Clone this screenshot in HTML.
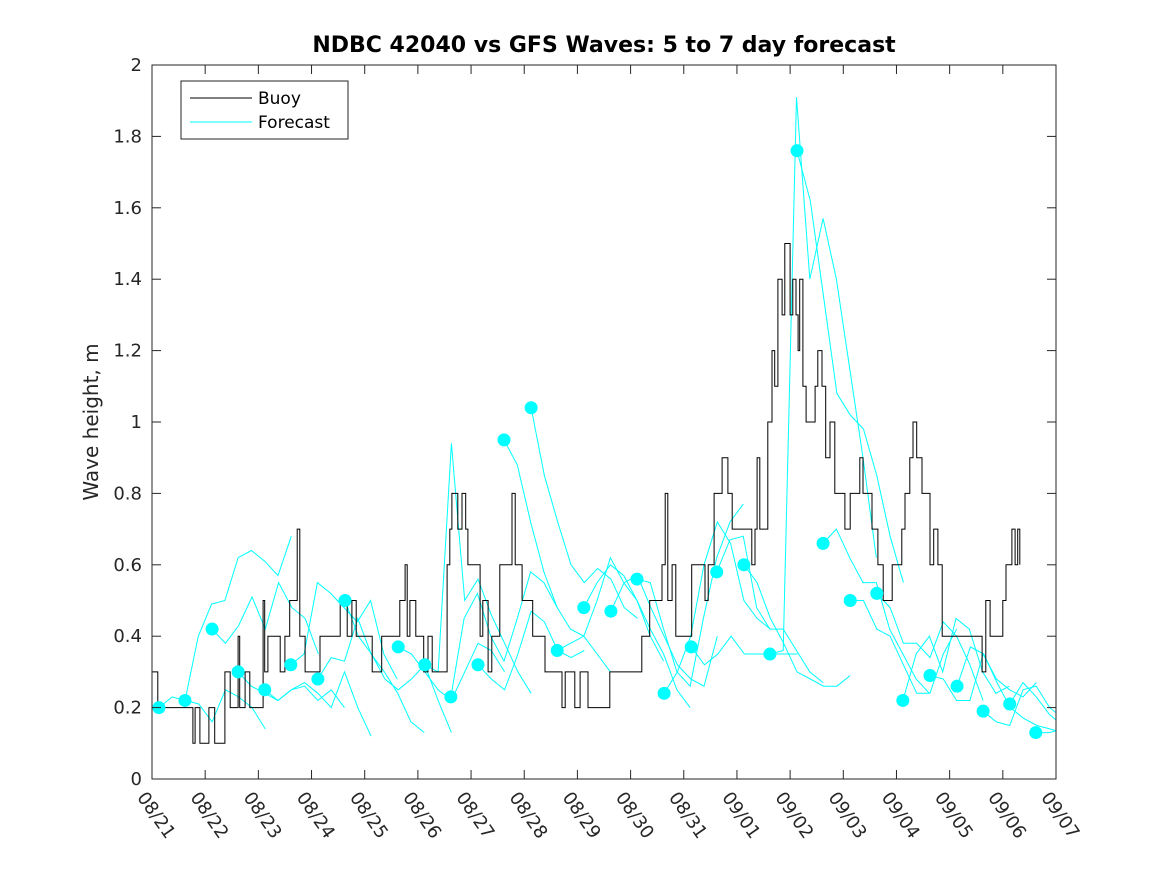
<!DOCTYPE html>
<html><head><meta charset="utf-8"><style>
body{margin:0;background:#fff}
svg{display:block;font-family:"DejaVu Sans","Liberation Sans",sans-serif}
</style></head><body>
<svg id="chart" width="1167" height="875" viewBox="0 0 1167 875">
<defs><clipPath id="pc"><rect x="152" y="65" width="904" height="714"/></clipPath></defs>
<rect width="1167" height="875" fill="#fff"/>
<text x="604" y="52" text-anchor="middle" font-size="22" font-weight="bold" fill="#000">NDBC 42040 vs GFS Waves: 5 to 7 day forecast</text>
<text transform="translate(98,422) rotate(-90)" text-anchor="middle" font-size="20" fill="#262626">Wave height, m</text>
<g id="plot" clip-path="url(#pc)"></g>
<g id="axes"></g>
<g>
<rect x="181" y="81" width="167" height="58" fill="#fff" stroke="#262626" stroke-width="1"/>
<line x1="190" y1="98" x2="252" y2="98" stroke="#000" stroke-width="1"/>
<text x="258" y="104" font-size="17" fill="#000">Buoy</text>
<line x1="190" y1="122" x2="252" y2="122" stroke="#00ffff" stroke-width="1"/>
<text x="258" y="128" font-size="17" fill="#000">Forecast</text>
</g>
</svg>
<script>
const xTicks=["08/21","08/22","08/23","08/24","08/25","08/26","08/27","08/28","08/29","08/30","08/31","09/01","09/02","09/03","09/04","09/05","09/06","09/07"];
const yTicks=[0,0.2,0.4,0.6,0.8,1,1.2,1.4,1.6,1.8,2];
const buoyDays=[0,0.11,0.77,0.81,0.90,1.07,1.18,1.37,1.47,1.62,1.65,1.75,1.84,2.09,2.12,2.18,2.41,2.50,2.59,2.73,2.78,2.88,3.16,3.54,3.67,3.76,3.84,4.14,4.32,4.66,4.76,4.80,4.85,4.96,5.11,5.19,5.27,5.55,5.60,5.64,5.75,5.83,5.90,5.94,6.17,6.22,6.32,6.39,6.54,6.77,6.83,6.96,7.16,7.39,7.71,7.77,7.95,8.05,8.20,8.61,9.21,9.36,9.59,9.65,9.70,9.78,9.85,10.15,10.40,10.46,10.57,10.72,10.83,10.91,11.28,11.34,11.38,11.43,11.58,11.66,11.71,11.77,11.85,11.90,12.00,12.05,12.11,12.15,12.18,12.24,12.30,12.47,12.52,12.60,12.67,12.75,12.84,13.03,13.13,13.31,13.37,13.54,13.65,13.75,13.92,14.10,14.16,14.25,14.31,14.38,14.48,14.63,14.70,14.78,14.86,15.61,15.68,15.76,16.00,16.06,16.17,16.23,16.28,16.32];
const buoyVals=[0.3,0.2,0.1,0.2,0.1,0.2,0.1,0.3,0.2,0.4,0.2,0.3,0.2,0.5,0.3,0.4,0.3,0.4,0.5,0.7,0.4,0.3,0.4,0.5,0.4,0.5,0.4,0.3,0.4,0.5,0.6,0.4,0.5,0.4,0.3,0.4,0.3,0.6,0.7,0.8,0.7,0.8,0.7,0.6,0.4,0.5,0.3,0.4,0.6,0.8,0.6,0.5,0.4,0.3,0.2,0.3,0.2,0.3,0.2,0.3,0.4,0.5,0.6,0.8,0.5,0.6,0.4,0.6,0.5,0.6,0.8,0.9,0.8,0.7,0.6,0.7,0.9,0.7,1.0,1.2,1.1,1.4,1.3,1.5,1.3,1.4,1.3,1.2,1.4,1.1,1.0,1.1,1.2,1.1,0.9,1.0,0.8,0.7,0.8,0.9,0.8,0.7,0.6,0.5,0.6,0.7,0.8,0.9,1.0,0.9,0.8,0.6,0.7,0.6,0.4,0.3,0.5,0.4,0.5,0.6,0.7,0.6,0.7,0.6];
const fcStartDays=[0.13,0.62,1.13,1.62,2.12,2.61,3.12,3.63,4.63,5.13,5.62,6.13,6.62,7.13,7.62,8.12,8.63,9.12,9.63,10.14,10.62,11.13,11.62,12.13,12.62,13.13,13.63,14.12,14.63,15.14,15.63,16.13,16.62];
const fcStep=0.25;
const fcVals=[
[0.20,0.23,0.22,0.21,0.16,0.25,0.23,0.20,0.14],
[0.22,0.40,0.49,0.50,0.62,0.64,0.61,0.57,0.68],
[0.42,0.38,0.43,0.51,0.42,0.55,0.48,0.45,0.35],
[0.30,0.26,0.24,0.22,0.25,0.26,0.22,0.25,0.20],
[0.25,0.22,0.25,0.27,0.24,0.20,0.30,0.20,0.12],
[0.32,0.35,0.55,0.52,0.48,0.44,0.50,0.35,0.28],
[0.28,0.34,0.33,0.45,0.35,0.30,0.24,0.16,0.13],
[0.50,0.40,0.35,0.28,0.25,0.28,0.32,0.22,0.13],
[0.37,0.35,0.30,0.25,0.22,0.30,0.38,0.36,0.30],
[0.32,0.30,0.94,0.50,0.56,0.46,0.38,0.30,0.24],
[0.23,0.45,0.52,0.40,0.33,0.45,0.58,0.55,0.48],
[0.32,0.28,0.25,0.35,0.47,0.44,0.36,0.34,0.36],
[0.95,0.88,0.72,0.58,0.48,0.42,0.40,0.35,0.30],
[1.04,0.85,0.72,0.60,0.55,0.59,0.56,0.48,0.45],
[0.36,0.38,0.40,0.50,0.62,0.55,0.50,0.40,0.33],
[0.48,0.55,0.60,0.57,0.50,0.42,0.35,0.25,0.20],
[0.47,0.55,0.57,0.48,0.40,0.32,0.28,0.26,0.40],
[0.56,0.55,0.42,0.30,0.26,0.45,0.62,0.72,0.77],
[0.24,0.30,0.40,0.60,0.72,0.66,0.50,0.45,0.42],
[0.37,0.32,0.35,0.40,0.35,0.35,0.35,0.35,0.35],
[0.58,0.67,0.68,0.48,0.42,0.42,0.36,0.30,0.27],
[0.60,0.55,0.45,0.38,0.30,0.28,0.26,0.26,0.29],
[0.35,0.36,1.91,1.40,1.57,1.40,1.15,0.90,0.62],
[1.76,1.62,1.35,1.08,1.02,0.98,0.85,0.68,0.55],
[0.66,0.70,0.62,0.55,0.55,0.42,0.35,0.28,0.24],
[0.50,0.50,0.42,0.40,0.32,0.24,0.24,0.35,0.42],
[0.52,0.48,0.38,0.38,0.34,0.44,0.40,0.32,0.22],
[0.22,0.35,0.40,0.30,0.45,0.42,0.30,0.24,0.26],
[0.29,0.28,0.22,0.22,0.35,0.28,0.25,0.23,0.27],
[0.26,0.37,0.35,0.27,0.20,0.17,0.15,0.14,0.13],
[0.19,0.16,0.15,0.25,0.26,0.20,0.17,0.15,0.16],
[0.21,0.27,0.23,0.18,0.15,0.13,0.15],
[0.13,0.13,0.14,0.14]];

const NS="http://www.w3.org/2000/svg";
const X0=152,X1=1056,Y0=779,Y1=65;
const xs=d=>X0+d*(X1-X0)/17;
const ys=v=>Y0-v*(Y0-Y1)/2;
const plot=document.getElementById('plot'),axes=document.getElementById('axes');
function mk(tag,attrs,parent){const e=document.createElementNS(NS,tag);for(const k in attrs)e.setAttribute(k,attrs[k]);parent.appendChild(e);return e;}

fcVals.forEach((vals,i)=>{
  const pts=vals.map((v,j)=>xs(fcStartDays[i]+j*fcStep).toFixed(1)+','+ys(v).toFixed(1)).join(' ');
  const pl=mk('polyline',{points:pts,fill:'none',stroke:'#00ffff','stroke-width':1},plot);
  
  
});
let d='';
buoyDays.forEach((dd,i)=>{
  const x=xs(dd).toFixed(1),y=ys(buoyVals[i]).toFixed(1);
  if(i===0)d+='M'+x+','+y;else d+='H'+x+'V'+y;
});
d+='H'+xs(16.32).toFixed(1);
const bl=mk('path',{d:d,fill:'none',stroke:'#000','stroke-width':1},plot);


fcVals.forEach((vals,i)=>{
  const c=mk('circle',{cx:xs(fcStartDays[i]),cy:ys(vals[0]),r:6.5,fill:'#00ffff'},plot);
  
  
});

const box=mk('rect',{x:X0,y:Y1,width:X1-X0,height:Y0-Y1,fill:'none',stroke:'#262626','stroke-width':1},axes);


xTicks.forEach((t,i)=>{
  const x=xs(i);
  mk('line',{x1:x,y1:Y0,x2:x,y2:Y0-9,stroke:'#262626'},axes);
  mk('line',{x1:x,y1:Y1,x2:x,y2:Y1+9,stroke:'#262626'},axes);
  const tx=mk('text',{transform:'translate('+(x-5)+',790) rotate(55)','font-size':18,fill:'#262626','dominant-baseline':'hanging'},axes);
  tx.textContent=t;
  
  
});
yTicks.forEach(v=>{
  const y=ys(v);
  mk('line',{x1:X0,y1:y,x2:X0+9,y2:y,stroke:'#262626'},axes);
  mk('line',{x1:X1,y1:y,x2:X1-9,y2:y,stroke:'#262626'},axes);
  const tx=mk('text',{x:X0-10,y:y+6,'text-anchor':'end','font-size':18,fill:'#262626'},axes);
  tx.textContent=String(v);
  
  
});
</script>
</body></html>
